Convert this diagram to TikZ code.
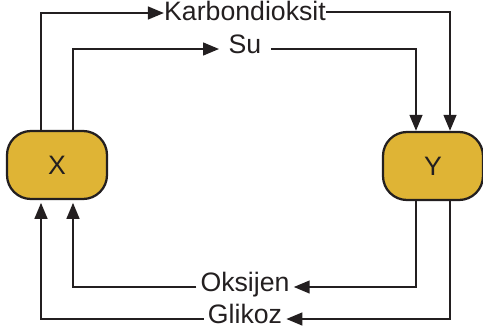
\documentclass[tikz,border=0pt]{standalone}
\usepackage{fontspec}
\setmainfont{Liberation Sans}
\usetikzlibrary{arrows.meta,calc,positioning}
\definecolor{ink}{HTML}{231F20}
\definecolor{gold}{HTML}{DFB435}

\begin{document}
\begin{tikzpicture}[x=.75pt,y=-.75pt,
  box/.style={draw=ink,fill=gold,line width=1.7pt,rounded corners=18pt,
    minimum width=75pt,minimum height=51pt,text=ink,
    font=\fontsize{20}{22}\selectfont},
  gas/.style={text=ink,font=\fontsize{20}{22}\selectfont,
    inner ysep=0pt,text height=.7em,text depth=0pt},
  flow/.style={draw=ink,line width=1.7pt},
  feed/.style={flow,-{Triangle[length=12pt,width=9.5pt]}}
]
\useasboundingbox (0,0) rectangle (483,329);
\node[box] (X) at (57,165) {X};
\node[box] (Y) at (433,166) {Y};
\node[gas,inner xsep=0pt] (co2) at (245,16) {Karbondioksit};
\node[gas,inner xsep=7pt] (su) at (245,49) {Su};
\node[gas,inner xsep=3pt] (o2) at (245,287) {Oksijen};
\node[gas,inner xsep=3pt] (glc) at (245,319) {Glikoz};
\draw[feed] ($(X.north)+(-16,0)$) |- ($(co2.west)+(0,-3)$);
\draw[feed] ($(co2.east)+(0,-4)$) -| ($(Y.north)+(17,0)$);
\draw[feed] ($(X.north)+(16,0)$) |- (su.west);
\draw[feed] (su.east) -| ($(Y.north)+(-17,0)$);
\draw[feed] ($(Y.south)+(-17,0)$) |- (o2.east);
\draw[feed,shorten >=2pt] (o2.west) -| ($(X.south)+(16,0)$);
\draw[feed] ($(Y.south)+(17,0)$) |- (glc.east);
\draw[feed,shorten >=2pt] (glc.west) -| ($(X.south)+(-16,0)$);
\end{tikzpicture}
\end{document}
